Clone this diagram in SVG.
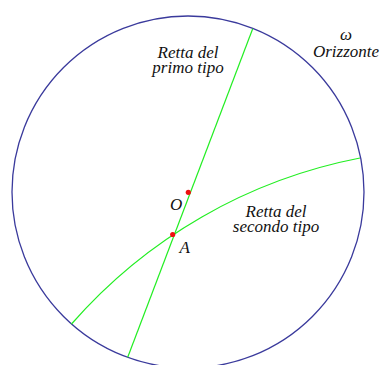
<svg xmlns="http://www.w3.org/2000/svg" width="382" height="365" viewBox="0 0 382 365">
<style>
  text { font-family: "Liberation Serif", "Times New Roman", serif; font-style: italic; font-size: 17px; fill: #111; }
  .c { text-anchor: middle; }
  .horizon { fill: none; stroke: #3a3a9c; stroke-width: 1.3; }
  .line { fill: none; stroke: #22ee22; stroke-width: 1.2; }
  .pt { fill: #ee1111; }
</style>
<rect width="382" height="365" fill="#ffffff"/>
<g id="horizon">
  <circle class="horizon" cx="188" cy="192" r="176"/>
  <text class="c" x="346" y="40">ω</text>
  <text class="c" x="346" y="57">Orizzonte</text>
</g>
<g id="connectors">
  <line id="retta1" class="line" x1="252.7" y1="28.7" x2="127.7" y2="357.3"/>
  <path id="retta2" class="line" d="M 360 158 A 512 512 0 0 0 71.5 324"/>
</g>
<g id="label-retta1">
  <text class="c" x="188" y="57.5">Retta del</text>
  <text class="c" x="188" y="73">primo tipo</text>
</g>
<g id="label-retta2">
  <text class="c" x="276" y="216.5">Retta del</text>
  <text class="c" x="276" y="232">secondo tipo</text>
</g>
<g id="point-O">
  <circle class="pt" cx="188.3" cy="192.3" r="2.6"/>
  <text x="170" y="210">O</text>
</g>
<g id="point-A">
  <circle class="pt" cx="172.7" cy="234.5" r="2.6"/>
  <text x="179.5" y="252.5">A</text>
</g>
</svg>
